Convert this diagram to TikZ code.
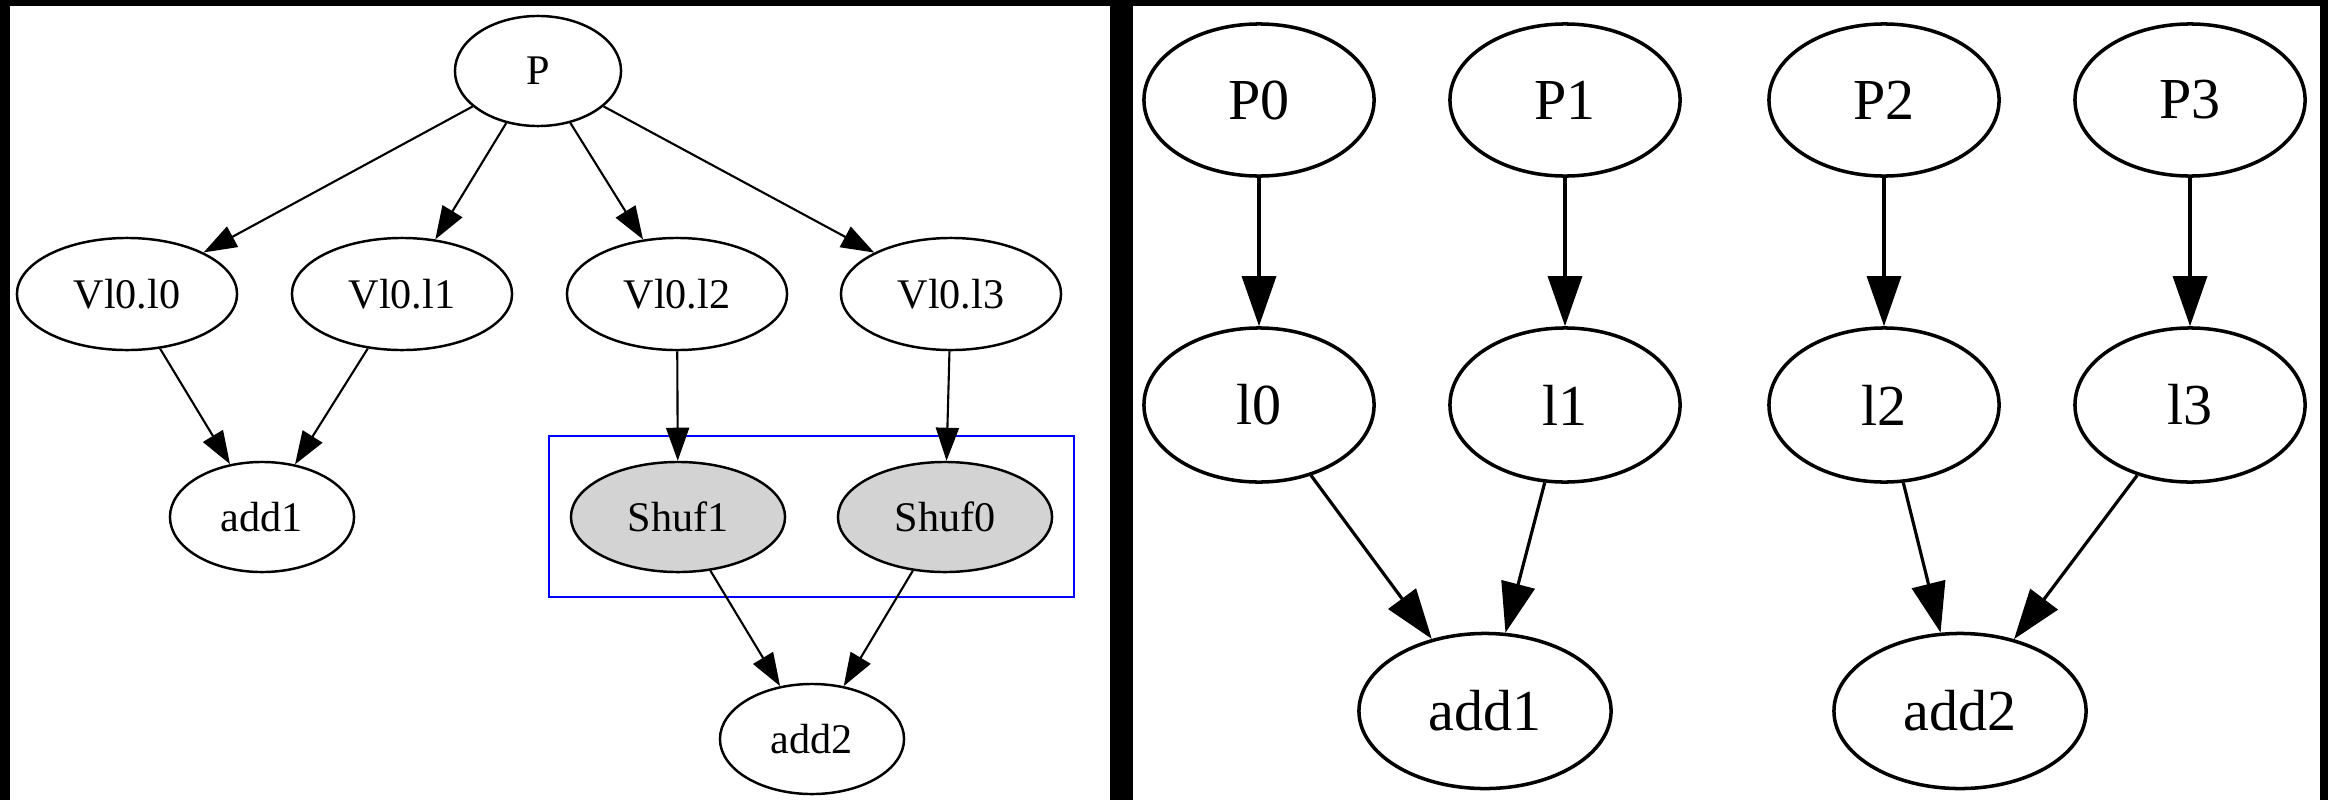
\documentclass[tikz,border=0pt]{standalone}
\usepackage{fontspec}
\setmainfont{Liberation Serif}
\usetikzlibrary{shapes.geometric,arrows.meta}

\definecolor{shufgray}{HTML}{D3D3D3}
\definecolor{clusterblue}{RGB}{0,0,255}

\begin{document}
\begin{tikzpicture}[x=0.01cm,y=-0.01cm,
  % left graph
  lnode/.style={ellipse,draw,line width=0.7pt,inner sep=0pt,
    font=\fontsize{12}{14}\selectfont},
  lsmall/.style={lnode,minimum width=1.66cm,minimum height=1.10cm},
  lwide/.style={lnode,minimum width=2.20cm,minimum height=1.12cm},
  ladd/.style={lnode,minimum width=1.84cm,minimum height=1.10cm},
  lshuf/.style={lnode,fill=shufgray,minimum width=2.14cm,minimum height=1.10cm},
  ledge/.style={line width=0.6pt,-{Triangle[length=0.33cm,width=0.23cm]}},
  % right graph
  rnode/.style={ellipse,draw,line width=1pt,inner sep=0pt,
    font=\fontsize{16.5}{19}\selectfont,minimum width=2.30cm,minimum height=1.54cm},
  radd/.style={rnode,minimum width=2.52cm,minimum height=1.55cm},
  redge/.style={line width=0.9pt,-{Triangle[length=0.5cm,width=0.34cm]}}
]
\useasboundingbox (0,0) rectangle (2328,800);

% frame: black ground with two white panels
\fill[black] (0,0) rectangle (2328,800);
\fill[white] (10,6) rectangle (1110,800);
\fill[white] (1133,6) rectangle (2320,800);

% ---------- left graph ----------
\node[lsmall] (P) at (538,71) {P};
\node[lwide] (V0) at (127,294) {Vl0.l0};
\node[lwide] (V1) at (402,294) {Vl0.l1};
\node[lwide] (V2) at (677,294) {Vl0.l2};
\node[lwide] (V3) at (951,294) {Vl0.l3};
\node[ladd] (A1) at (262,517) {add1};
\node[lshuf] (S1) at (678,517) {Shuf1};
\node[lshuf] (S0) at (945,517) {Shuf0};
\node[ladd] (A2) at (812,739) {add2};

\draw[clusterblue,line width=0.7pt] (549,436) rectangle (1074,597);

\foreach \v in {V0,V1,V2,V3} \draw[ledge] (P) -- (\v);
\draw[ledge] (V0) -- (A1);
\draw[ledge] (V1) -- (A1);
\draw[ledge] (V2) -- (S1);
\draw[ledge] (V3) -- (S0);
\draw[ledge] (S1) -- (A2);
\draw[ledge] (S0) -- (A2);

% ---------- right graph ----------
\node[rnode,minimum height=1.52cm] (P0) at (1259,100) {P0};
\node[rnode,minimum height=1.52cm] (P1) at (1565,100) {P1};
\node[rnode,minimum height=1.52cm] (P2) at (1884,100) {P2};
\node[rnode,minimum height=1.52cm] (P3) at (2190,100) {P3};
\node[rnode] (L0) at (1259,405) {l0};
\node[rnode] (L1) at (1565,405) {l1};
\node[rnode] (L2) at (1884,405) {l2};
\node[rnode] (L3) at (2190,405) {l3};
\node[radd] (R1) at (1485,711) {add1};
\node[radd] (R2) at (1960,711) {add2};

\draw[redge] (P0) -- (L0);
\draw[redge] (P1) -- (L1);
\draw[redge] (P2) -- (L2);
\draw[redge] (P3) -- (L3);
\draw[redge] (L0) -- (R1);
\draw[redge] (L1) -- (R1);
\draw[redge] (L2) -- (R2);
\draw[redge] (L3) -- (R2);
\end{tikzpicture}
\end{document}
